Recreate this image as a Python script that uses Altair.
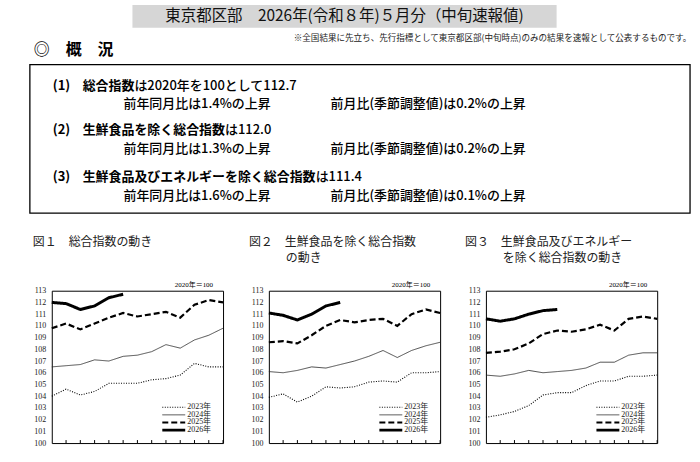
import altair as alt
import pandas as pd

# ---------------- data ----------------
months = list(range(0, 13))          # 0 = previous December
tick_months = list(range(1, 13))
y_ticks = list(range(100, 114))
years = ["2023年", "2024年", "2025年", "2026年"]

# 図1 総合指数
p1_2023 = [104.0, 104.6, 104.1, 104.4, 105.1, 105.1, 105.1, 105.4, 105.5, 105.8, 106.8, 106.5, 106.5]
p1_2024 = [106.5, 106.6, 106.7, 107.1, 107.0, 107.4, 107.5, 107.8, 108.4, 108.1, 108.8, 109.2, 109.8]
p1_2025 = [109.8, 110.2, 109.7, 110.2, 110.7, 111.1, 110.8, 111.0, 111.2, 110.7, 111.8, 112.2, 112.0]
p1_2026 = [112.0, 111.9, 111.4, 111.7, 112.4, 112.7]

# 図2 生鮮食品を除く総合指数
p2_2023 = [103.9, 104.2, 103.5, 104.0, 104.8, 104.7, 104.8, 105.2, 105.3, 105.2, 106.0, 106.0, 106.1]
p2_2024 = [106.1, 106.0, 106.2, 106.5, 106.4, 106.7, 107.0, 107.4, 107.9, 107.3, 107.9, 108.3, 108.6]
p2_2025 = [108.6, 108.7, 108.5, 109.2, 110.0, 110.5, 110.3, 110.5, 110.6, 110.0, 111.0, 111.4, 111.1]
p2_2026 = [111.1, 110.9, 110.5, 111.0, 111.7, 112.0]

# 図3 生鮮食品及びエネルギーを除く総合指数
p3_2023 = [102.2, 102.4, 102.7, 103.2, 104.1, 104.3, 104.3, 104.9, 105.3, 105.3, 105.7, 105.7, 105.8]
p3_2024 = [105.8, 105.7, 105.9, 106.2, 106.0, 106.1, 106.2, 106.4, 106.9, 106.9, 107.5, 107.7, 107.7]
p3_2025 = [107.7, 107.8, 108.0, 108.5, 109.3, 109.6, 109.5, 109.7, 110.1, 109.6, 110.6, 110.8, 110.6]
p3_2026 = [110.6, 110.4, 110.6, 111.0, 111.3, 111.4]

# texts
main_title = "東京都区部　2026年(令和８年)５月分（中旬速報値)"
note_text = "※全国結果に先立ち、先行指標として東京都区部(中旬時点)のみの結果を速報として公表するものです。"
section_title = "◎　概　況"
item_nums = ["(1)", "(2)", "(3)"]
item_heads = ["総合指数", "生鮮食品を除く総合指数", "生鮮食品及びエネルギーを除く総合指数"]
item_values = ["は2020年を100として112.7", "は112.0", "は111.4"]
item_yoy = ["前年同月比は1.4%の上昇", "前年同月比は1.3%の上昇", "前年同月比は1.6%の上昇"]
item_mom = ["前月比(季節調整値)は0.2%の上昇", "前月比(季節調整値)は0.2%の上昇", "前月比(季節調整値)は0.1%の上昇"]
fig_titles_1 = ["図１　総合指数の動き", "図２　生鮮食品を除く総合指数", "図３　生鮮食品及びエネルギー"]
fig_titles_2 = ["", "の動き", "を除く総合指数の動き"]
base_label = "2020年＝100"

# ---------------- helpers ----------------
JP = "Noto Sans CJK JP"
NUM = "Liberation Serif, Noto Sans CJK JP"
one = pd.DataFrame({"k": [0]})


def txt(s, x, y, size, weight="normal", align="left", font=JP, color="black"):
    return alt.Chart(one).mark_text(
        text=s, align=align, baseline="middle", fontSize=size,
        fontWeight=weight, font=font, color=color
    ).encode(x=alt.value(x), y=alt.value(y))


def series_df(s23, s24, s25, s26):
    rows = []
    for yr, vals in zip(years, [s23, s24, s25, s26]):
        for m, v in zip(months, vals):
            rows.append({"month": m, "value": v, "year": yr})
    return pd.DataFrame(rows)


PW, PH = 172, 153

color_enc = alt.Color("year:N", scale=alt.Scale(type="ordinal", domain=years,
                                                range=["black", "#222", "black", "black"]),
                      legend=None)
dash_enc = alt.StrokeDash("year:N", scale=alt.Scale(type="ordinal", domain=years,
                                                    range=[[1, 1.5], [1, 0], [6, 3], [1, 0]]),
                          legend=None)
width_enc = alt.StrokeWidth("year:N", scale=alt.Scale(type="ordinal", domain=years,
                                                      range=[1.1, 0.8, 2.2, 3.0]),
                            legend=None)


def panel(df):
    xs = alt.Scale(domain=[0, 12], nice=False, zero=False)
    ys = alt.Scale(domain=[100, 113], nice=False, zero=False)
    lines = alt.Chart(df).mark_line(interpolate="linear").encode(
        x=alt.X("month:Q", scale=xs, title=None,
                axis=alt.Axis(values=tick_months, grid=False, domain=False, tickSize=0,
                              labelPadding=5, labelFont=NUM, labelFontSize=8,
                              labelColor="#222",
                              labelExpr="datum.value == 12 ? '12月' : datum.value")),
        y=alt.Y("value:Q", scale=ys, title=None,
                axis=alt.Axis(values=y_ticks, grid=False, domain=False, tickSize=0,
                              labelPadding=6, labelFont=NUM, labelFontSize=8,
                              labelColor="#222", format="d")),
        color=color_enc, strokeDash=dash_enc, strokeWidth=width_enc,
        order="month:Q",
    )
    ticks = alt.Chart(pd.DataFrame({"m": tick_months})).mark_rule(color="black", strokeWidth=1).encode(
        x=alt.X("m:Q", scale=xs, axis=None),
        y=alt.value(PH), y2=alt.value(PH - 3),
    )
    leg_y = alt.Y("year:N", scale=alt.Scale(type="point", domain=years, range=[117, 140], padding=0),
                  axis=None)
    leg_df = pd.DataFrame({"year": years})
    leg_lines = alt.Chart(leg_df).mark_rule().encode(
        x=alt.value(111), x2=alt.value(134), y=leg_y,
        color=color_enc, strokeDash=dash_enc, strokeWidth=width_enc,
    )
    leg_text = alt.Chart(leg_df).mark_text(
        align="left", baseline="middle", font=NUM, fontSize=8, color="#222"
    ).encode(x=alt.value(136), y=leg_y, text="year:N")
    return alt.layer(lines, ticks, leg_lines, leg_text).resolve_scale(y="independent").properties(
        width=PW, height=PH,
        view=alt.ViewBackground(stroke="black", strokeWidth=1),
    )


# ---------------- header (pixel layout) ----------------
layers = []
layers.append(alt.Chart(one).mark_rect(fill="#d6d6d6").encode(
    x=alt.value(130), x2=alt.value(556), y=alt.value(4), y2=alt.value(27)))
layers.append(txt(main_title, 343, 15.5, 15.5, align="center", color="#111"))
layers.append(txt(note_text, 292, 37, 8.6, color="#222"))
layers.append(txt(section_title, 31, 49, 16, weight="bold"))
layers.append(alt.Chart(one).mark_rect(fill=None, stroke="black", strokeWidth=1.3).encode(
    x=alt.value(27), x2=alt.value(690), y=alt.value(64), y2=alt.value(213)))

FS = 13
row_y = [85, 130, 177]
sub_y = [103, 149, 196]
for i in range(3):
    layers.append(txt(item_nums[i], 50, row_y[i], FS, weight="bold"))
    layers.append(txt(item_heads[i], 80, row_y[i], FS, weight="bold"))
    layers.append(txt(item_values[i], 80 + FS * len(item_heads[i]), row_y[i], FS, weight=500))
    layers.append(txt(item_yoy[i], 121, sub_y[i], FS, weight=500))
    layers.append(txt(item_mom[i], 329, sub_y[i], FS, weight=500))

title_x = [30, 247, 464]
title_x2 = [0, 284, 502]
plot_right = [221, 439, 657]
for i in range(3):
    layers.append(txt(fig_titles_1[i], title_x[i], 242, 12, color="#222"))
    if fig_titles_2[i]:
        layers.append(txt(fig_titles_2[i], title_x2[i], 258, 12, color="#222"))
    layers.append(txt(base_label, plot_right[i] - 10, 285, 7, align="right", font=NUM))

header = alt.layer(*layers).properties(
    width=700, height=291, view=alt.ViewBackground(stroke=None)
)

spacer = alt.Chart(one).mark_point(opacity=0).encode(
    x=alt.value(0), y=alt.value(0)
).properties(width=3, height=PH, view=alt.ViewBackground(stroke=None))

row = alt.hconcat(
    spacer,
    panel(series_df(p1_2023, p1_2024, p1_2025, p1_2026)),
    panel(series_df(p2_2023, p2_2024, p2_2025, p2_2026)),
    panel(series_df(p3_2023, p3_2024, p3_2025, p3_2026)),
    spacing=46, bounds="flush",
).resolve_scale(color="independent", strokeDash="independent", strokeWidth="independent")

chart = alt.vconcat(header, row, spacing=0, bounds="flush").properties(
    padding=0, background="white"
)

chart.save("out.html", embed_options={"renderer": "svg", "actions": False})
